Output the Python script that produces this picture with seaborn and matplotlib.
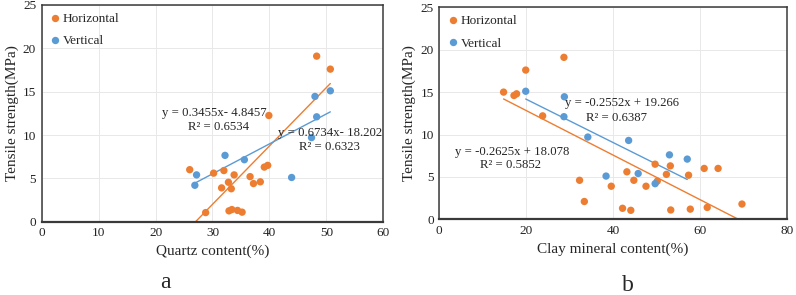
import numpy as np
import pandas as pd
import matplotlib
matplotlib.use("Agg")
import matplotlib.pyplot as plt
import seaborn as sns

# --- data ---
# panel a: quartz content vs tensile strength
quartz_h_x = [26.0, 30.2, 32.0, 33.8, 32.8, 31.6, 33.3, 36.6, 37.2, 38.4, 39.1, 39.7,
              28.8, 32.9, 33.4, 34.4, 35.2, 39.9, 48.3, 50.7]
quartz_h_y = [6.0, 5.6, 5.9, 5.4, 4.55, 3.9, 3.8, 5.2, 4.4, 4.6, 6.3, 6.5,
              1.05, 1.25, 1.4, 1.3, 1.1, 12.25, 19.1, 17.6]
quartz_v_x = [26.9, 27.2, 32.2, 35.6, 43.9, 47.4, 48.0, 48.3, 50.7]
quartz_v_y = [4.2, 5.4, 7.65, 7.15, 5.1, 9.7, 14.45, 12.1, 15.1]

# panel b: clay mineral content vs tensile strength
clay_h_x = [14.8, 17.2, 17.8, 19.9, 28.7, 23.8, 32.3, 33.4, 39.6, 42.2, 44.1, 43.2,
            44.8, 47.6, 49.7, 50.2, 52.3, 53.2, 53.3, 57.4, 57.8, 61.0, 61.7, 64.2, 69.7]
clay_h_y = [15.0, 14.6, 14.8, 17.6, 19.1, 12.2, 4.6, 2.1, 3.9, 1.3, 1.06, 5.6,
            4.6, 3.9, 6.5, 4.5, 5.3, 6.3, 1.1, 5.2, 1.2, 6.0, 1.4, 6.0, 1.8]
clay_v_x = [19.9, 28.8, 28.7, 34.2, 43.6, 38.4, 45.8, 49.7, 53.0, 57.1]
clay_v_y = [15.1, 14.45, 12.1, 9.7, 9.3, 5.1, 5.4, 4.2, 7.6, 7.1]

# linear trend coefficients (slope, intercept) as printed in the figure
quartz_fit_h = (0.6734, -18.202)
quartz_fit_v = (0.3455, -4.8457)
clay_fit_h = (-0.2625, 18.078)
clay_fit_v = (-0.2552, 19.266)

SERIES = ["Horizontal", "Vertical"]
COLORS = {"Horizontal": "#ED7D31", "Vertical": "#5B9BD5"}


def make_df(hx, hy, vx, vy):
    return pd.DataFrame({
        "x": hx + vx,
        "y": hy + vy,
        "series": ["Horizontal"] * len(hx) + ["Vertical"] * len(vx),
    })


def draw_panel(ax, df, fits, xlim, xticks, xlabel, notes, letter, letter_pos):
    sns.scatterplot(data=df, x="x", y="y", hue="series", hue_order=SERIES,
                    palette=COLORS, s=28, edgecolor="none", ax=ax, zorder=3)
    # trend lines over the x range of each series
    for name, (m, c) in zip(SERIES, fits):
        xs = df.loc[df.series == name, "x"]
        xx = np.array([xs.min(), xs.max()])
        ax.plot(xx, m * xx + c, color=COLORS[name], lw=1.0, zorder=2)

    ax.set_xlim(*xlim)
    ax.set_ylim(0, 25)
    ax.set_xticks(xticks)
    ax.set_yticks(range(0, 26, 5))
    ax.set_xlabel(xlabel, fontsize=11, labelpad=4)
    ax.set_ylabel("Tensile strength(MPa)", fontsize=11, labelpad=3)
    ax.tick_params(length=0, labelsize=9.5, pad=4, colors="#222222")
    ax.grid(True, color="#e8e8e8", lw=0.7)
    for side, sp in ax.spines.items():
        sp.set_visible(True)
        sp.set_color("#3a3a3a")
        sp.set_linewidth(1.6 if side == "bottom" else 1.1)

    for (tx, ty, txt) in notes:
        ax.text(tx, ty, txt, ha="center", va="center", fontsize=9.2, zorder=4)

    ax.legend(loc="upper left", frameon=False, fontsize=9.5,
              handlelength=0.8, handletextpad=0.2, borderaxespad=0.2,
              labelspacing=0.75)
    fig.text(letter_pos[0], letter_pos[1], letter, ha="center", va="baseline",
             fontsize=17)


sns.set_theme(style="whitegrid")
plt.rcParams["font.family"] = ["Liberation Serif", "DejaVu Serif"]

fig = plt.figure(figsize=(7.96, 2.95), dpi=100)
ax_a = fig.add_axes([0.0524, 0.2485, 0.4291, 0.7346])
ax_b = fig.add_axes([0.5519, 0.2566, 0.4364, 0.7186])

df_a = make_df(quartz_h_x, quartz_h_y, quartz_v_x, quartz_v_y)
df_b = make_df(clay_h_x, clay_h_y, clay_v_x, clay_v_y)

draw_panel(ax_a, df_a, [quartz_fit_h, quartz_fit_v], (0, 60), range(0, 61, 10),
           "Quartz content(%)",
           [(30.3, 12.5, "y = 0.3455x- 4.8457"), (31.1, 10.96, "R² = 0.6534"),
            (50.6, 10.2, "y = 0.6734x- 18.202"), (50.5, 8.65, "R² = 0.6323")],
           "a", (165 / 796, 1 - 288 / 295))
draw_panel(ax_b, df_b, [clay_fit_h, clay_fit_v], (0, 80), range(0, 81, 20),
           "Clay mineral content(%)",
           [(42.0, 13.7, "y = -0.2552x + 19.266"), (40.7, 11.9, "R² = 0.6387"),
            (16.7, 7.97, "y = -0.2625x + 18.078"), (16.3, 6.4, "R² = 0.5852")],
           "b", (628 / 796, 1 - 291 / 295))

fig.savefig("out.png", dpi=100)
